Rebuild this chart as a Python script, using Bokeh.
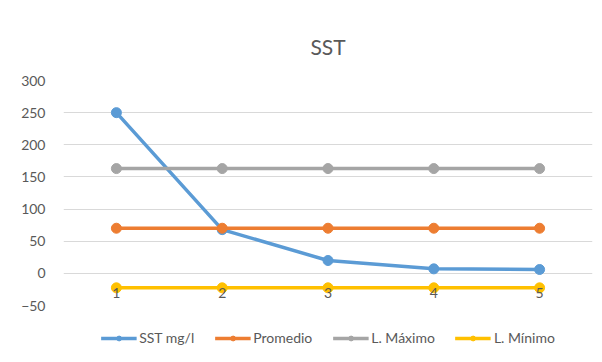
from bokeh.plotting import figure
from bokeh.models import Legend, LegendItem, FixedTicker, Range1d, ColumnDataSource
from bokeh.embed import file_html
from bokeh.resources import INLINE
from bokeh.core.properties import value

samples = [1, 2, 3, 4, 5]
sample_labels = ["1", "2", "3", "4", "5"]
sst = [250, 68, 20, 7, 6]
promedio = [70.2, 70.2, 70.2, 70.2, 70.2]
l_max = [163, 163, 163, 163, 163]
l_min = [-22.5, -22.5, -22.5, -22.5, -22.5]
y_ticks = [-50, 0, 50, 100, 150, 200, 250, 300]
x_axis_crossing = [0, 0, 0, 0, 0]

series = [
    ("SST mg/l", sst, "#5B9BD5"),
    ("Promedio", promedio, "#ED7D31"),
    ("L. Máximo", l_max, "#A5A5A5"),
    ("L. Mínimo", l_min, "#FFC000"),
]

FONT = "Lato"
TXT = "#595959"

p = figure(frame_width=529, frame_height=225, output_backend="svg", toolbar_location=None,
           x_range=Range1d(0.5, 5.5), y_range=Range1d(-50, 300),
           x_axis_location=None,
           min_border_left=63, min_border_right=8, min_border_top=80, min_border_bottom=0,
           border_fill_color="white")

p.title.text = "SST"
p.title.align = "center"
p.title.text_font = FONT
p.title.text_font_size = "21px"
p.title.text_font_style = "normal"
p.title.text_color = TXT
p.title.standoff = 44

p.outline_line_color = None
p.xgrid.grid_line_color = None
p.ygrid.grid_line_color = "#D9D9D9"
p.ygrid.grid_line_width = 1

p.yaxis.ticker = FixedTicker(ticks=y_ticks)
p.yaxis.axis_line_color = None
p.yaxis.major_tick_line_color = None
p.yaxis.minor_tick_line_color = None
p.yaxis.major_label_text_font = FONT
p.yaxis.major_label_text_font_size = "14px"
p.yaxis.major_label_text_color = TXT
p.yaxis.major_label_standoff = 12

items = []
for name, vals, color in series:
    r1 = p.line(samples, vals, line_color=color, line_width=3.5)
    r2 = p.scatter(samples, vals, size=10, fill_color=color, line_color=color)
    items.append(LegendItem(label=name, renderers=[r1, r2]))

lbl_src = ColumnDataSource(dict(x=samples, y=x_axis_crossing, t=sample_labels))
p.text(x="x", y="y", text="t", source=lbl_src, text_font=value(FONT),
       text_font_size="14px", text_color=TXT, text_align="center",
       text_baseline="top", y_offset=15)

legend = Legend(items=items, orientation="horizontal", location="top_center",
                label_text_font=FONT, label_text_font_size="14px", label_text_color=TXT,
                glyph_width=36, glyph_height=12, spacing=20, label_standoff=3,
                border_line_color=None, background_fill_alpha=0, padding=4, margin=24)
p.add_layout(legend, "below")

open("out.html", "w").write(file_html(p, INLINE))
